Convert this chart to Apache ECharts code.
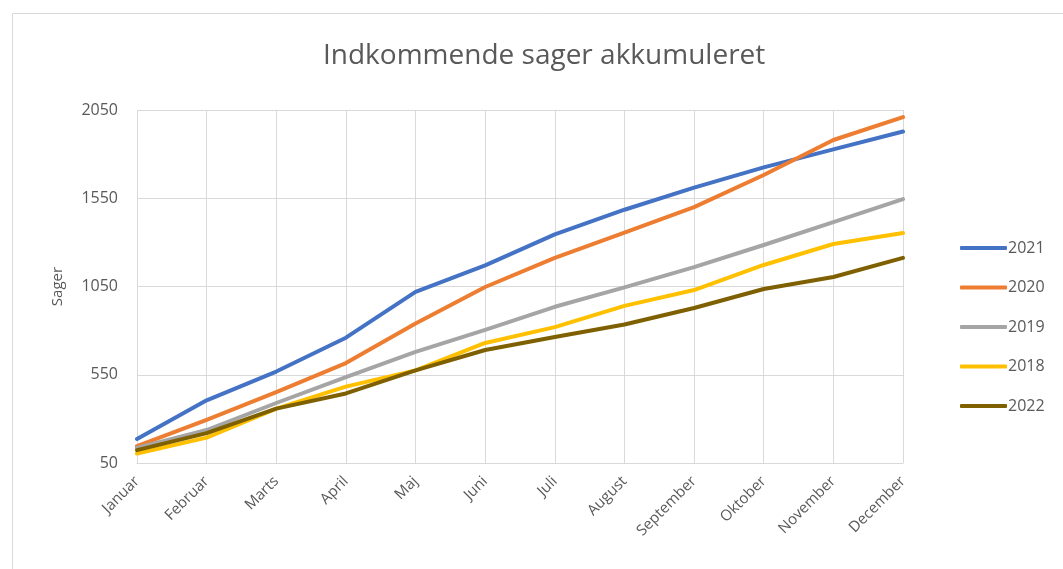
<!DOCTYPE html>
<html>
<head>
<meta charset="utf-8">
<script src="https://cdn.jsdelivr.net/npm/echarts@6/dist/echarts.min.js"></script>
<style>
  html, body { margin: 0; padding: 0; background: #fff; }
  #chart { width: 1063px; height: 569px; }
</style>
</head>
<body>
<div id="chart"></div>
<script>
// Måneder og akkumulerede sager pr. år
const months = ['Januar', 'Februar', 'Marts', 'April', 'Maj', 'Juni', 'Juli', 'August', 'September', 'Oktober', 'November', 'December'];
const yTicks = [50, 550, 1050, 1550, 2050];

const sager2021 = [186, 405, 568, 760, 1020, 1170, 1345, 1485, 1610, 1725, 1827, 1928];
const sager2020 = [146, 295, 452, 616, 840, 1047, 1212, 1355, 1500, 1682, 1880, 2010];
const sager2019 = [135, 237, 390, 537, 680, 804, 935, 1045, 1160, 1285, 1415, 1545];
const sager2018 = [104, 194, 358, 483, 575, 730, 820, 940, 1030, 1172, 1291, 1353];
const sager2022 = [123, 219, 358, 444, 575, 690, 764, 835, 928, 1036, 1104, 1212];

const seriesNames = ['2021', '2020', '2019', '2018', '2022'];
const seriesData = [sager2021, sager2020, sager2019, sager2018, sager2022];
const seriesColors = ['#4472C4', '#ED7D31', '#A5A5A5', '#FFC000', '#7F6000'];

const textColor = '#595959';
const font = '"Open Sans", "Noto Sans", sans-serif';

const chart = echarts.init(document.getElementById('chart'));

const option = {
    animation: false,
    backgroundColor: '#fff',
    textStyle: { fontFamily: font },
    title: {
        text: 'Indkommende sager akkumuleret',
        left: 318,
        top: 37,
        textStyle: { color: textColor, fontSize: 28, fontWeight: 'normal', fontFamily: font }
    },
    graphic: [{
        type: 'rect',
        shape: { x: 12.5, y: 13.5, width: 1070, height: 580 },
        style: { fill: 'none', stroke: '#d9d9d9', lineWidth: 1 },
        silent: true
    }],
    legend: {
        orient: 'vertical',
        left: 955,
        top: 233,
        icon: 'roundRect',
        itemWidth: 47,
        itemHeight: 4,
        itemGap: 19.5,
        textStyle: { color: textColor, fontSize: 16, lineHeight: 20, padding: [0, 0, 0, -4] },
        data: seriesNames
    },
    grid: {
        left: 137,
        right: 160,
        top: 110,
        bottom: 106,
        containLabel: false
    },
    xAxis: {
        type: 'category',
        boundaryGap: false,
        data: months,
        axisLine: { show: true, lineStyle: { color: '#d9d9d9' } },
        axisTick: { show: false },
        splitLine: { show: true, lineStyle: { color: '#d9d9d9' } },
        axisLabel: {
            color: textColor,
            fontSize: 15,
            rotate: 45,
            margin: 16,
            interval: 0
        }
    },
    yAxis: {
        type: 'value',
        min: 50,
        max: 2050,
        interval: 500,
        name: 'Sager',
        nameLocation: 'middle',
        nameGap: 72,
        nameTextStyle: { color: textColor, fontSize: 15 },
        axisLine: { show: false },
        axisTick: { show: false },
        splitLine: { show: true, lineStyle: { color: '#d9d9d9' } },
        axisLabel: {
            color: textColor,
            fontSize: 16,
            margin: 19,
            formatter: v => (yTicks.includes(v) ? String(v) : '')
        }
    },
    series: seriesNames.map((name, i) => ({
        name: name,
        type: 'line',
        data: seriesData[i],
        symbol: 'none',
        color: seriesColors[i],
        lineStyle: { width: 4, color: seriesColors[i], cap: 'round', join: 'round' },
        z: 2 + i
    }))
};

chart.setOption(option);
</script>
</body>
</html>
